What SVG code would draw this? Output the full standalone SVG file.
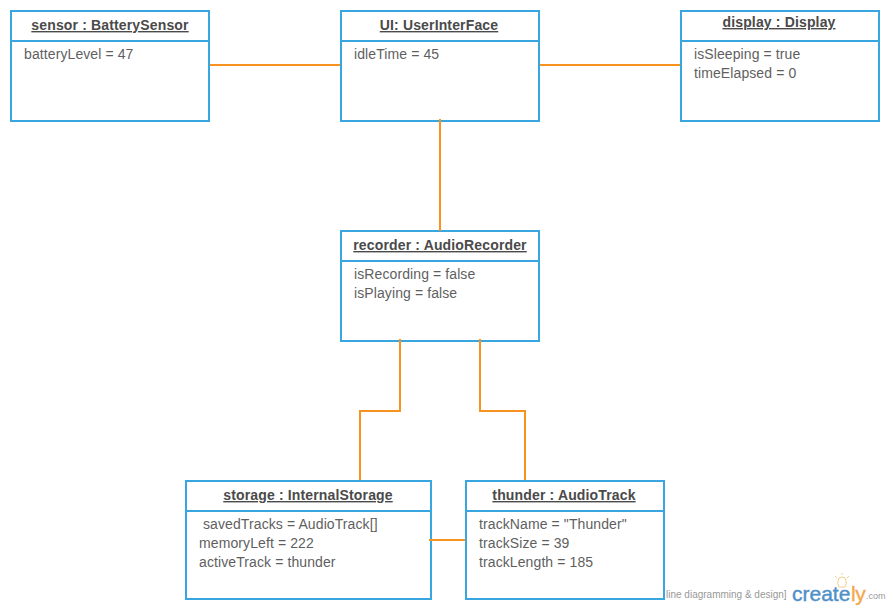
<svg xmlns="http://www.w3.org/2000/svg" width="890" height="610" viewBox="0 0 890 610">
<style>
.box{fill:#fff;stroke:#3aa6e0;stroke-width:2}
.c{fill:none;stroke:#f7931e;stroke-width:2}
text{font-family:"Liberation Sans",Arial,sans-serif}
.t{font-size:14px;font-weight:bold;fill:#4a4a4a;text-anchor:middle;text-decoration:underline;letter-spacing:.15px}
.a{font-size:14px;fill:#5f5f5f;letter-spacing:.1px}
</style>
<rect width="890" height="610" fill="#fff"/>
<g id="sensor"><rect class="box" x="11" y="11" width="198" height="110"/><path class="box" d="M11 41H209"/>
<text class="t" x="110" y="30">sensor : BatterySensor</text><text class="a" x="24" y="59">batteryLevel = 47</text></g>
<g id="ui"><rect class="box" x="341" y="11" width="198" height="110"/><path class="box" d="M341 41H539"/>
<text class="t" x="439" y="30">UI: UserInterFace</text><text class="a" x="354" y="59">idleTime = 45</text></g>
<g id="display"><rect class="box" x="681" y="11" width="198" height="110"/><path class="box" d="M681 41H879"/>
<text class="t" x="779" y="27">display : Display</text><text class="a" x="694" y="59">isSleeping = true</text><text class="a" x="694" y="78">timeElapsed = 0</text></g>
<g id="recorder"><rect class="box" x="341" y="231" width="198" height="110"/><path class="box" d="M341 261H539"/>
<text class="t" x="440" y="250">recorder : AudioRecorder</text><text class="a" x="354" y="279">isRecording = false</text><text class="a" x="354" y="298">isPlaying = false</text></g>
<g id="storage"><rect class="box" x="186" y="481" width="245" height="118"/><path class="box" d="M186 511H431"/>
<text class="t" x="308" y="500">storage : InternalStorage</text><text class="a" x="203" y="529">savedTracks = AudioTrack[]</text><text class="a" x="199" y="548">memoryLeft = 222</text><text class="a" x="199" y="567">activeTrack = thunder</text></g>
<g id="thunder"><rect class="box" x="466" y="481" width="198" height="118"/><path class="box" d="M466 511H664"/>
<text class="t" x="564" y="500">thunder : AudioTrack</text><text class="a" x="479" y="529">trackName = "Thunder"</text><text class="a" x="479" y="548">trackSize = 39</text><text class="a" x="479" y="567">trackLength = 185</text></g>
<g id="connectors">
<path class="c" d="M210 65H340"/>
<path class="c" d="M540 65H680"/>
<path class="c" d="M440 119V231"/>
<path class="c" d="M400 339V411H360V480"/>
<path class="c" d="M480 339V411H525V480"/>
<path class="c" d="M429 540H465"/>
</g>
<g id="watermark">
<text x="666" y="598" font-size="10" fill="#999">line diagramming &amp; design]</text>
<text x="792" y="601" font-size="21" fill="#4f8fc9" stroke="#4f8fc9" stroke-width=".4">create</text>
<text x="851" y="601" font-size="21" letter-spacing="-.3" fill="#f2a84c" stroke="#f2a84c" stroke-width=".4">ly</text>
<text x="866" y="599" font-size="9" fill="#999">.com</text>
<g fill="none" stroke="#f7cf8a" stroke-width="1">
<path d="M839 587Q837 583 838 581A4 4 0 0 1 846 581Q847 583 845 587Z"/>
<path d="M842 573V575M835 576L837 578M849 576L847 578"/>
</g>
</g>
</svg>
